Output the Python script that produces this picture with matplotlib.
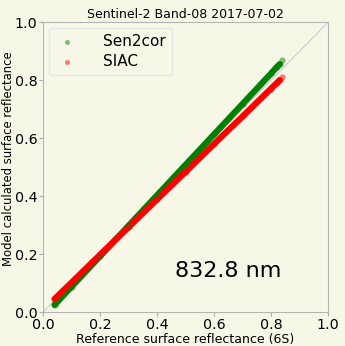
import matplotlib.pyplot as plt
import numpy as np

# Reference (6S) vs model surface reflectance for band 8
ref_x = [0.04, 0.10, 0.20, 0.30, 0.40, 0.50, 0.60, 0.70, 0.80, 0.82, 0.83, 0.84]
sen2cor_y = [0.025, 0.088, 0.193, 0.298, 0.403, 0.508, 0.613, 0.718, 0.823, 0.845, 0.855, 0.870]
siac_y = [0.045, 0.102, 0.198, 0.293, 0.389, 0.484, 0.580, 0.675, 0.771, 0.790, 0.800, 0.810]

title = "Sentinel-2 Band-08 2017-07-02"
wavelength = "832.8 nm"
bg = "#f7f7e8"

fig = plt.figure(figsize=(3.45, 3.46), dpi=100, facecolor=bg)
ax = fig.add_axes([0.125, 0.098, 0.826, 0.838], facecolor=bg)

ax.plot([0, 1], [0, 1], color="#cccccc", lw=0.8, zorder=1)

for y, color, label in [(sen2cor_y, "green", "Sen2cor"), (siac_y, "red", "SIAC")]:
    ax.plot(ref_x[:-1], y[:-1], color=color, lw=4.5, solid_capstyle="round", zorder=2)
    ax.scatter(ref_x, y, s=20, color=color, alpha=0.5, lw=0, label=label, zorder=3)

ax.set_xlim(0, 1)
ax.set_ylim(0, 1)
ticks = [0.0, 0.2, 0.4, 0.6, 0.8, 1.0]
ax.set_xticks(ticks)
ax.set_yticks(ticks)
ax.tick_params(labelsize=10.3, length=3, color="#aaaaaa", pad=1)
for s in ax.spines.values():
    s.set_color("#b5b5b5")

ax.set_title(title, fontsize=9, pad=3)
ax.set_xlabel("Reference surface reflectance (6S)", fontsize=9, labelpad=1)
ax.set_ylabel("Model calculated surface reflectance", fontsize=8.4)
ax.yaxis.set_label_coords(-0.1, 0.53)
ax.text(0.65, 0.14, wavelength, fontsize=16, ha="center", va="center")

leg = ax.legend(loc="upper left", fontsize=11, markerscale=0.8, handletextpad=1.6,
                handlelength=1.5, labelspacing=0.3, borderaxespad=0.4,
                frameon=True, fancybox=True, facecolor=bg, edgecolor="#e0e0e0")

fig.savefig("out.png", dpi=100, facecolor=bg)
